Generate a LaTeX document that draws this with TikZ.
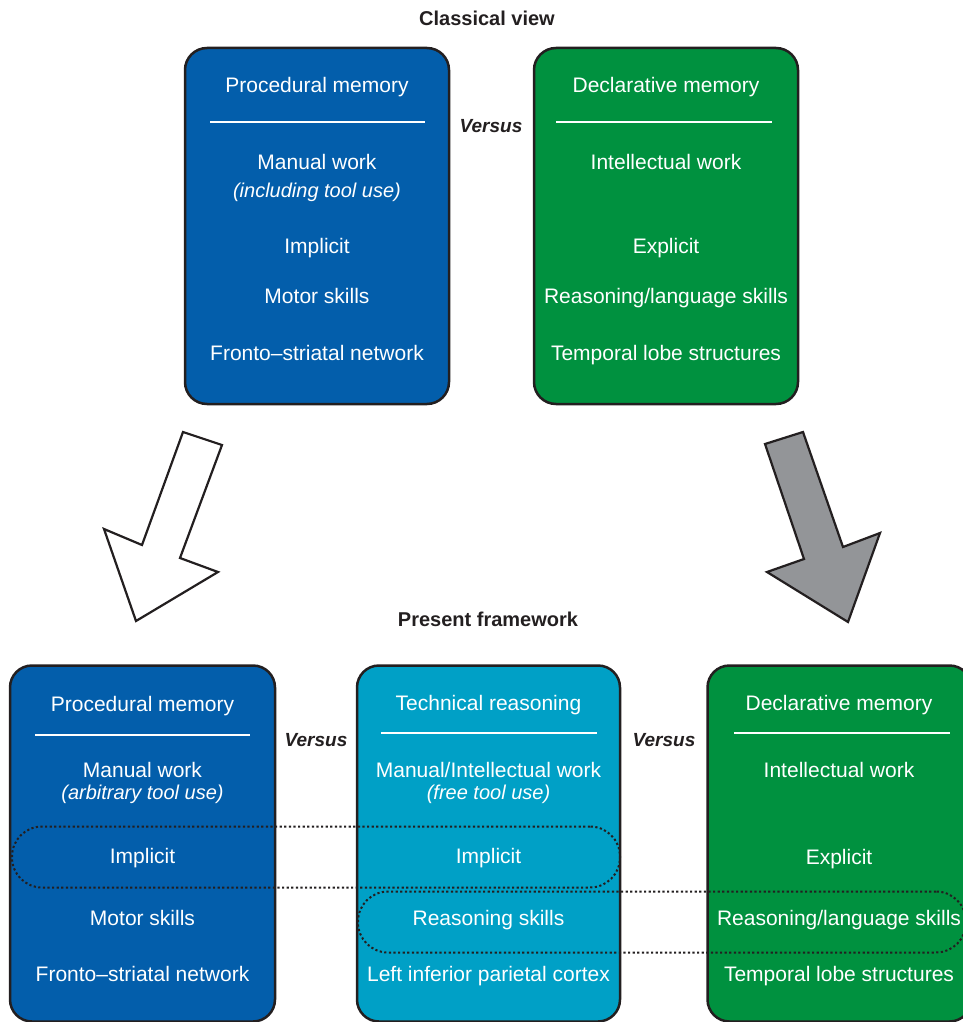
\documentclass[tikz,border=0pt]{standalone}
\usepackage{fontspec}
\setmainfont{Liberation Sans}
\definecolor{pblue}{HTML}{035EAB}
\definecolor{dgreen}{HTML}{00913F}
\definecolor{tcyan}{HTML}{00A0C6}
\definecolor{edgec}{HTML}{231F20}
\definecolor{agrey}{HTML}{939598}
\begin{document}
\begin{tikzpicture}[x=1pt,y=-1pt,
  memb/.style={draw=edgec, line width=2.5pt, rounded corners=22pt, minimum width=264pt, minimum height=356pt, inner sep=0pt},
  txt/.style={text=white, font=\fontsize{21}{25}\selectfont, inner sep=0pt, anchor=base},
  itx/.style={text=white, font=\fontsize{20}{24}\selectfont\itshape, inner sep=0pt, anchor=base},
  ttl/.style={text=edgec, font=\fontsize{20}{24}\selectfont\bfseries, inner sep=0pt, anchor=base},
  vs/.style={text=edgec, font=\fontsize{19}{23}\selectfont\bfseries\itshape, inner sep=0pt, anchor=base},
  divider/.style={white, line width=2.5pt},
  dots/.style={draw=edgec, line width=2pt, dash pattern=on 2.2pt off 2.4pt, rounded corners=30pt, minimum height=61pt, inner sep=0pt},
  blk/.style={draw=edgec, line width=2.2pt, line join=miter},
]
\useasboundingbox (0,0) rectangle (963,1022);

% ---------- top: classical view ----------
\node[ttl] (t1) at (487,26) {Classical view};

\node[memb, fill=pblue] (pm) at (317,226) {};
\node[memb, fill=dgreen] (dm) at (666,226) {};

\node[txt] (pm1) at (317,93) {Procedural memory};
\coordinate (pmA) at (210,122); \coordinate (pmB) at (425,122);
\draw[divider] (pmA) -- (pmB);
\node[txt] (pm2) at (317,169) {Manual work};
\node[itx] (pm3) at (317,197) {(including tool use)};
\node[txt] (pm4) at (317,253) {Implicit};
\node[txt] (pm5) at (317,303) {Motor skills};
\node[txt] (pm6) at (317,360) {Fronto–striatal network};

\node[vs] (v1) at (491,132) {Versus};

\node[txt] (dm1) at (666,93) {Declarative memory};
\coordinate (dmA) at (556,122); \coordinate (dmB) at (772,122);
\draw[divider] (dmA) -- (dmB);
\node[txt] (dm2) at (666,169) {Intellectual work};
\node[txt] (dm4) at (666,253) {Explicit};
\node[txt] (dm5) at (666,303) {Reasoning/language skills};
\node[txt] (dm6) at (666,360) {Temporal lobe structures};

% ---------- block arrows ----------
\coordinate (la1) at (183,432); \coordinate (la2) at (222,445);
\coordinate (la3) at (180,558); \coordinate (la4) at (218,572);
\coordinate (la5) at (136,621); \coordinate (la6) at (104,529);
\coordinate (la7) at (142,545);
\draw[blk, fill=white] (la1) -- (la2) -- (la3) -- (la4) -- (la5) -- (la6) -- (la7) -- cycle;

\coordinate (ra1) at (803,432); \coordinate (ra2) at (765,444);
\coordinate (ra3) at (804,559); \coordinate (ra4) at (767,572);
\coordinate (ra5) at (848,622); \coordinate (ra6) at (880,533);
\coordinate (ra7) at (843,547);
\draw[blk, fill=agrey] (ra1) -- (ra2) -- (ra3) -- (ra4) -- (ra5) -- (ra6) -- (ra7) -- cycle;

% ---------- bottom: present framework ----------
\node[ttl] (t2) at (488,626) {Present framework};

\node[memb, fill=pblue, minimum width=265pt] (bp) at (142.5,843.5) {};
\node[memb, fill=tcyan, minimum width=263pt] (tr) at (488.5,843.5) {};
\node[memb, fill=dgreen, minimum width=264pt] (bd) at (839.5,843.5) {};

\node[txt] (bp1) at (142.5,711) {Procedural memory};
\coordinate (bpA) at (35,735); \coordinate (bpB) at (250,735);
\draw[divider] (bpA) -- (bpB);
\node[txt] (bp2) at (142.5,777) {Manual work};
\node[itx] (bp3) at (142.5,799) {(arbitrary tool use)};
\node[txt] (bp4) at (142.5,863) {Implicit};
\node[txt] (bp5) at (142.5,925) {Motor skills};
\node[txt] (bp6) at (142.5,981) {Fronto–striatal network};

\node[vs] (v2) at (316,746) {Versus};

\node[txt] (tr1) at (488.5,710) {Technical reasoning};
\coordinate (trA) at (381,733); \coordinate (trB) at (597,733);
\draw[divider] (trA) -- (trB);
\node[txt] (tr2) at (488.5,777) {Manual/Intellectual work};
\node[itx] (tr3) at (488.5,799) {(free tool use)};
\node[txt] (tr4) at (488.5,863) {Implicit};
\node[txt] (tr5) at (488.5,925) {Reasoning skills};
\node[txt] (tr6) at (488.5,981) {Left inferior parietal cortex};

\node[vs] (v3) at (664,746) {Versus};

\node[txt] (bd1) at (839,710) {Declarative memory};
\coordinate (bdA) at (734,733); \coordinate (bdB) at (950,733);
\draw[divider] (bdA) -- (bdB);
\node[txt] (bd2) at (839,777) {Intellectual work};
\node[txt] (bd4) at (839,864) {Explicit};
\node[txt] (bd5) at (839,925) {Reasoning/language skills};
\node[txt] (bd6) at (839,981) {Temporal lobe structures};

% ---------- dotted groupings ----------
\node[dots, minimum width=608pt] (g1) at (316,857) {};
\node[dots, minimum width=608pt] (g2) at (662,922) {};

\end{tikzpicture}
\end{document}
